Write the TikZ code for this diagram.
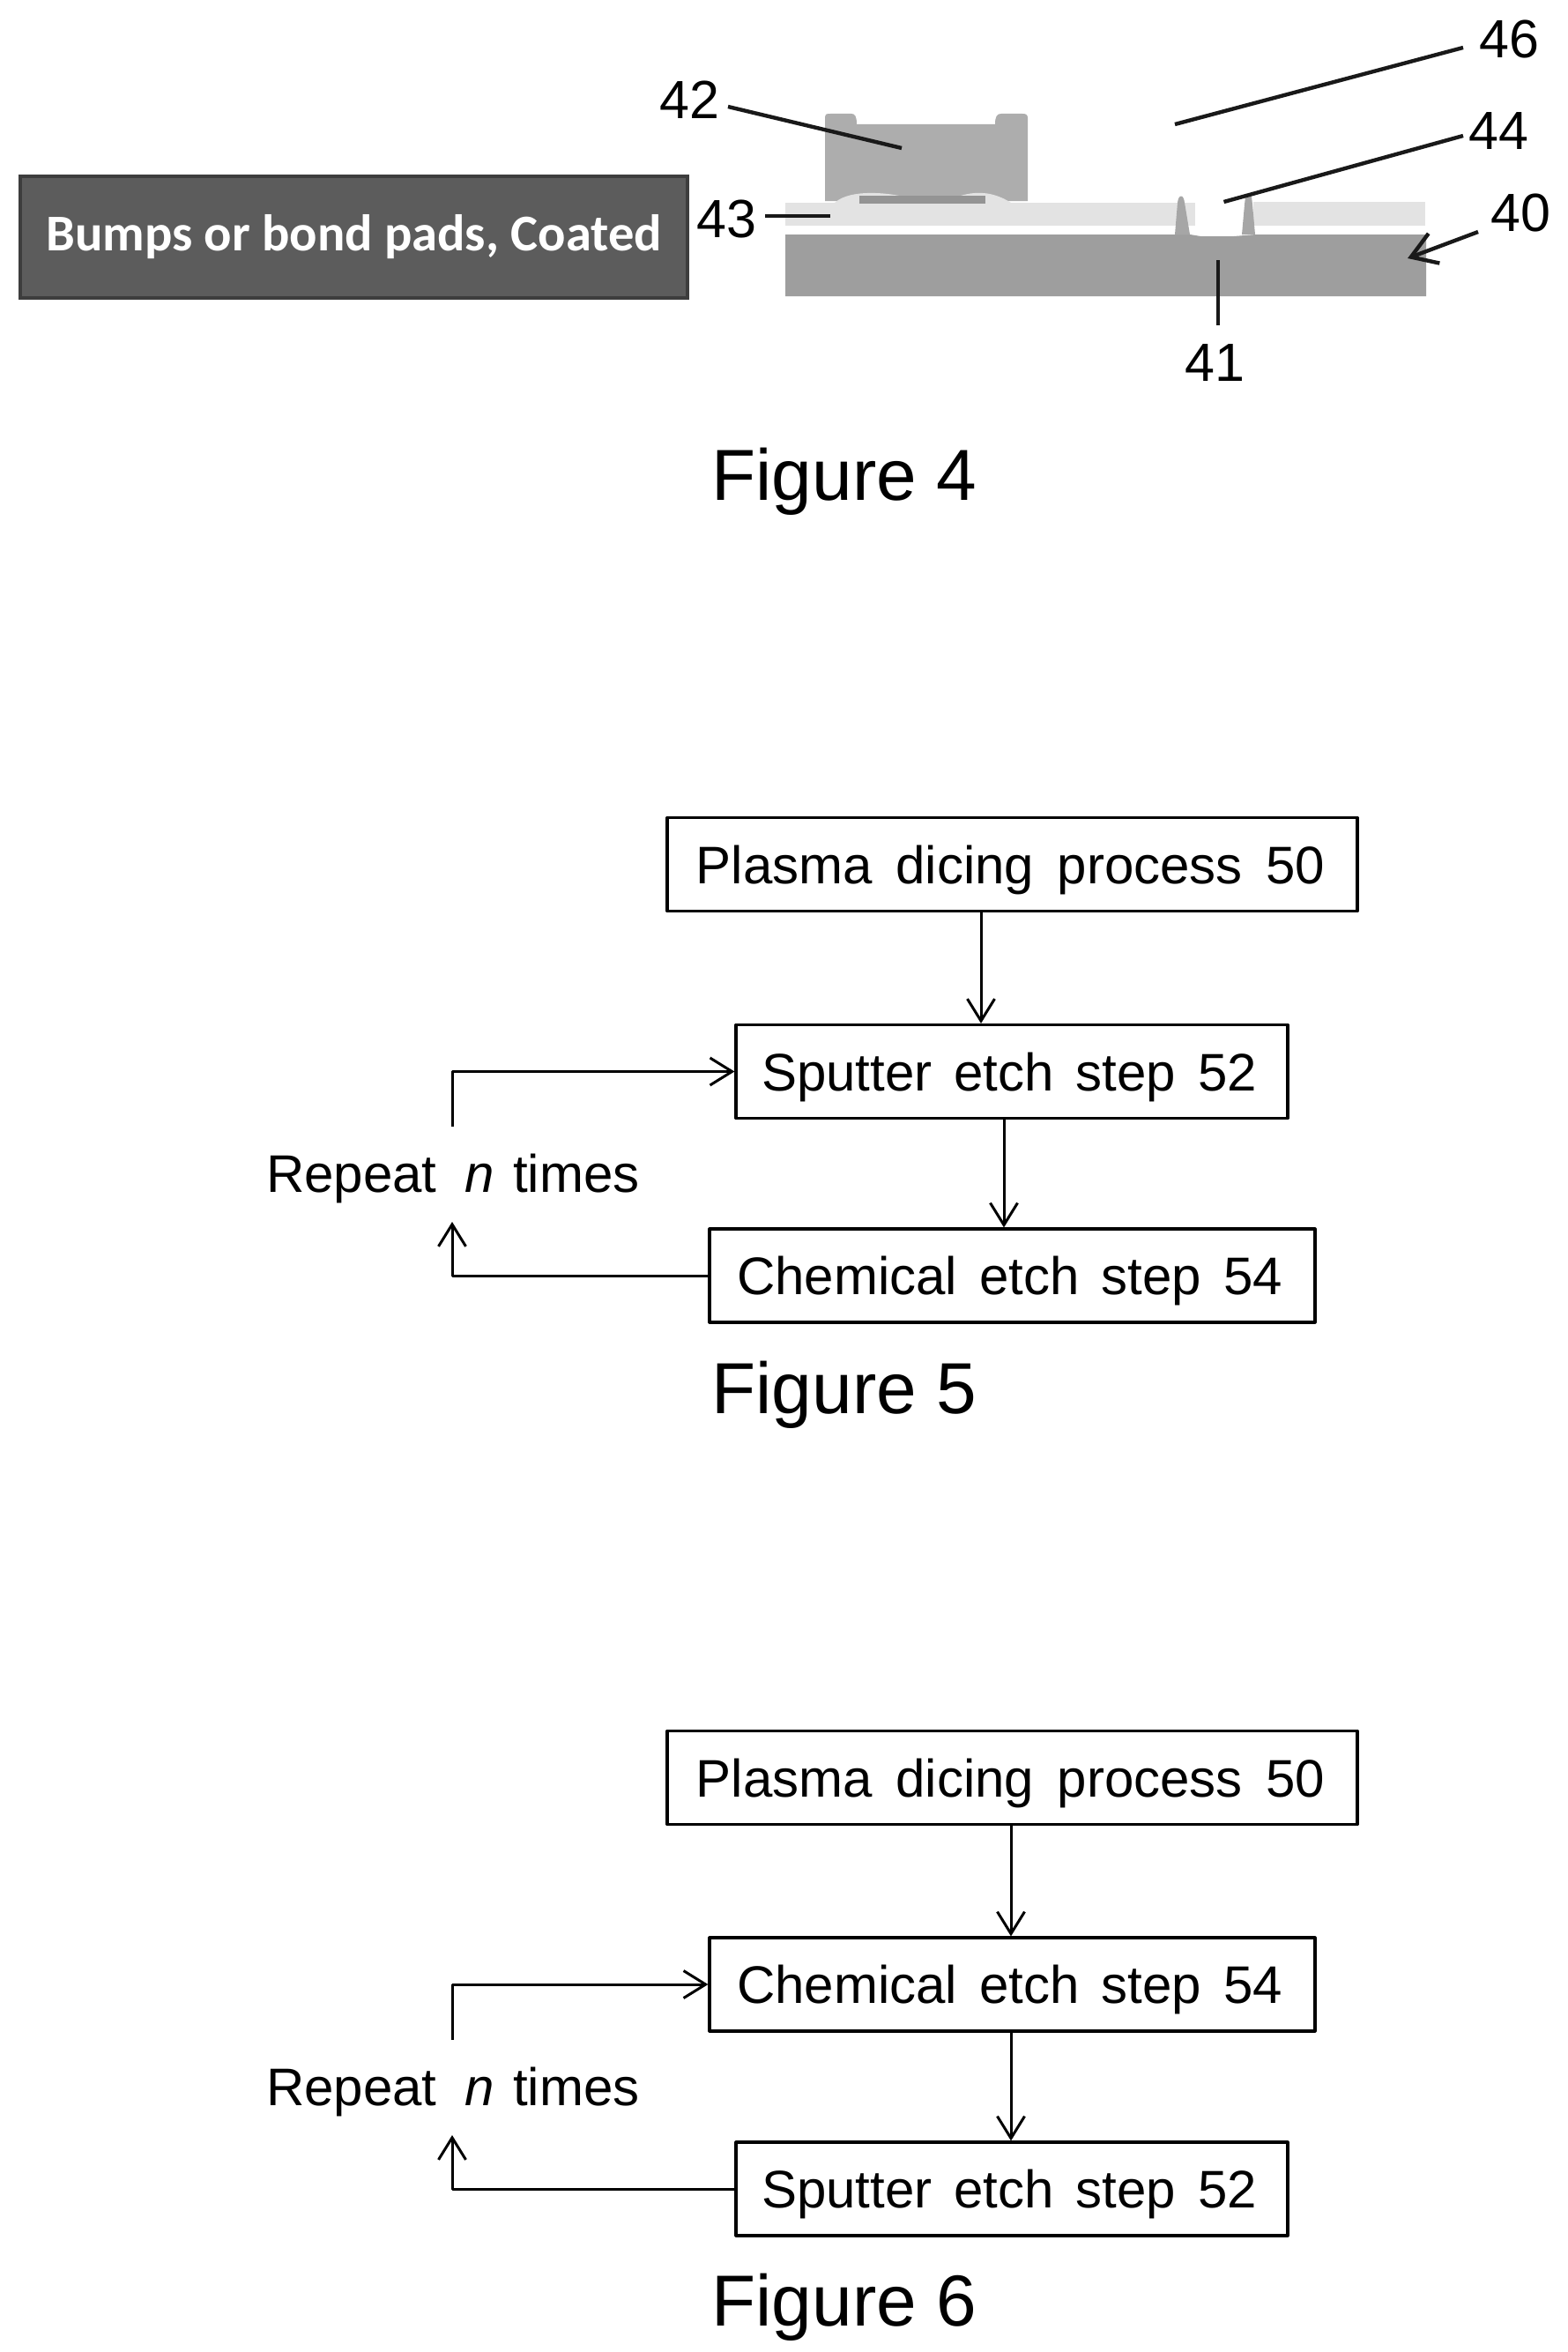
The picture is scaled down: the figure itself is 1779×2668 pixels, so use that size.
\documentclass[tikz,border=0pt]{standalone}
\usepackage{fontspec}
\setmainfont{Liberation Sans}
\newfontfamily\boxfont{Carlito}
\usetikzlibrary{arrows.meta}
\definecolor{padgray}{gray}{0.36}
\definecolor{padedge}{gray}{0.24}
\definecolor{bumpgray}{gray}{0.68}
\definecolor{bumpdark}{gray}{0.58}
\definecolor{layergray}{gray}{0.89}
\definecolor{subgray}{gray}{0.62}
\definecolor{pillargray}{gray}{0.65}
\tikzset{
  x=1pt,y=-1pt,
  flowbox/.style={draw=black,line width=3.2pt,fill=white,inner sep=0pt,minimum height=106pt,
    text height=43pt,text depth=0pt,line join=round,
    font=\fontsize{60}{60}\selectfont,text=black},
  flowarrow/.style={draw=black,line width=3pt,line join=round,
    -{Straight Barb[length=25pt,width=31pt,line width=3pt]}},
  leader/.style={draw=black!90,line width=4.4pt},
  numlabel/.style={inner sep=0pt,font=\fontsize{61}{61}\selectfont,text=black},
  figlabel/.style={inner sep=0pt,anchor=base,font=\fontsize{82}{82}\selectfont,text=black},
  replabel/.style={inner sep=0pt,anchor=base west,font=\fontsize{60}{60}\selectfont,text=black},
}
\newcommand{\wg}{\hspace{25pt}}
\newcommand{\wgp}{\hspace{26.5pt}}
\begin{document}
\begin{tikzpicture}
\useasboundingbox (0,0) rectangle (1779,2668);
% Figure 4
\node[draw=padedge,line width=3.5pt,fill=padgray,inner sep=0pt,minimum width=757pt,minimum height=138pt,
  text=white,font=\boxfont\bfseries\fontsize{58.5}{59}\selectfont] (pad) at (401.5,269) {\raisebox{-8pt}{Bumps or bond pads, Coated}};
\fill[subgray] (891,266) -- (1350,266) -- (1362,268) -- (1400,268) -- (1425,266) -- (1618,266) -- (1618,336) -- (891,336) -- cycle;
\fill[layergray] (891,230) rectangle (1356,256);
\fill[layergray] (1422,229) rectangle (1617,256);
\fill[bumpgray] (936,134) .. controls (936,129) and (938,129) .. (942,129) -- (966,129) .. controls (970,129) and (972,132) .. (972,141)
  -- (1129,141) .. controls (1129,132) and (1131,129) .. (1136,129) -- (1160,129) .. controls (1164,129) and (1166,130) .. (1166,134)
  -- (1166,228) -- (936,228) -- cycle;
\fill[layergray] (945,232) .. controls (960,215) and (1000,218) .. (1020,222) -- (1090,222) .. controls (1110,216) and (1130,218) .. (1150,232) -- cycle;
\fill[bumpdark] (975,222) -- (1118,222) -- (1118,231) -- (975,231) -- cycle;
\fill[pillargray] (1333,266) -- (1336,230) .. controls (1337,220) and (1343,220) .. (1344,230) -- (1350,266) -- cycle;
\fill[pillargray] (1409,266) -- (1412,232) -- (1413,223) -- (1420,223) -- (1421,232) -- (1424,266) -- cycle;
\node[numlabel] (n42) at (782,113) {42};
\node[numlabel] (n43) at (824,248) {43};
\node[numlabel] (n46) at (1712,45) {46};
\node[numlabel] (n44) at (1700,149) {44};
\node[numlabel] (n40) at (1725,242) {40};
\node[numlabel] (n41) at (1378,412) {41};
\coordinate (c42) at (1023,168); \coordinate (s42) at (826,121);
\coordinate (c43) at (942,245); \coordinate (s43) at (868,245);
\coordinate (c46) at (1333,141); \coordinate (s46) at (1660,54);
\coordinate (c44) at (1388.5,229); \coordinate (s44) at (1660,154);
\coordinate (c40) at (1597,293); \coordinate (s40) at (1677,263);
\coordinate (c41) at (1382,295); \coordinate (s41) at (1382,369);
\draw[leader] (s42) -- (c42);
\draw[leader] (s43) -- (c43);
\draw[leader] (s46) -- (c46);
\draw[leader] (s44) -- (c44);
\draw[leader] (s41) -- (c41);
\draw[leader,-{Straight Barb[length=28pt,width=36pt,line width=4.4pt]}] (s40) -- (c40);
\node[figlabel] (f4) at (958,567) {Figure 4};
% Figure 5
\node[flowbox,minimum width=783pt] (a1) at (1148.5,980.5) {Plasma\wgp dicing\wgp process\wgp 50\kern4pt};
\node[flowbox,minimum width=626pt] (a2) at (1148,1215.5) {Sputter\wg etch\wg step\wg 52\kern6pt};
\node[flowbox,minimum width=687pt] (a3) at (1148.5,1447) {Chemical\wg etch\wg step\wg 54\kern6pt};
\node[replabel] (ar) at (302,1352) {Repeat\hspace{32pt}\textit{n}\hspace{21pt}times};
\coordinate (ax1) at (1113,1100);
\coordinate (ax2) at (1139,1330);
\coordinate (as) at (513,1278);
\coordinate (ae) at (513,1386);
\draw[flowarrow] (a1.south -| ax1) -- (a2.north -| ax1);
\draw[flowarrow] (a2.south -| ax2) -- (a3.north -| ax2);
\draw[flowarrow] (as) |- (a2.west);
\draw[flowarrow] (a3.west) -| (ae);
\node[figlabel] (f5) at (958,1603) {Figure 5};
% Figure 6
\node[flowbox,minimum width=783pt] (b1) at (1148.5,2016.5) {Plasma\wgp dicing\wgp process\wgp 50\kern4pt};
\node[flowbox,minimum width=687pt] (b2) at (1148.5,2251) {Chemical\wg etch\wg step\wg 54\kern6pt};
\node[flowbox,minimum width=626pt] (b3) at (1148,2483) {Sputter\wg etch\wg step\wg 52\kern6pt};
\node[replabel] (br) at (302,2388) {Repeat\hspace{32pt}\textit{n}\hspace{21pt}times};
\coordinate (bx1) at (1147,2130);
\coordinate (bx2) at (1147,2365);
\coordinate (bs) at (513,2314);
\coordinate (be) at (513,2422);
\draw[flowarrow] (b1.south -| bx1) -- (b2.north -| bx1);
\draw[flowarrow] (b2.south -| bx2) -- (b3.north -| bx2);
\draw[flowarrow] (bs) |- (b2.west);
\draw[flowarrow] (b3.west) -| (be);
\node[figlabel] (f6) at (958,2638) {Figure 6};
\end{tikzpicture}
\end{document}
